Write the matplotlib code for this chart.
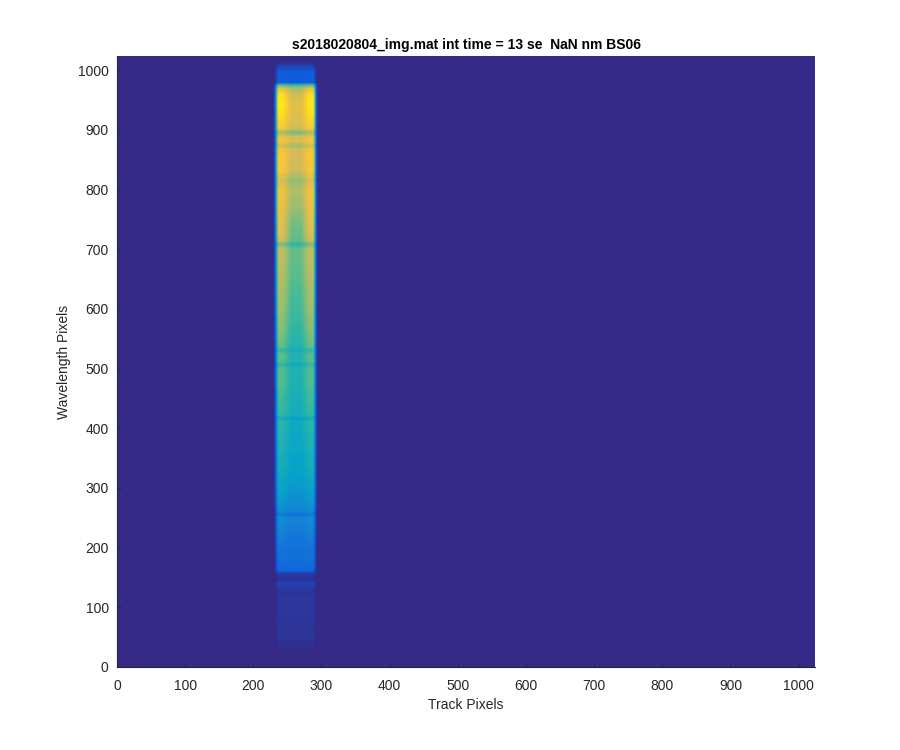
import numpy as np
import matplotlib
matplotlib.use('Agg')
import matplotlib.pyplot as plt
from matplotlib.colors import LinearSegmentedColormap

plt.rcParams['font.family'] = ['Liberation Sans', 'DejaVu Sans']

# colours of the parula map, evenly spaced
parula_colors = ['#352A87', '#0F5CDD', '#1481D6', '#06A4CA', '#2EB7A4',
                 '#87BF77', '#D1BB59', '#FEC832', '#F9FB0E']

# cross track positions and how bright each one is
track_x = [0, 229, 232, 233, 235, 237, 243, 250, 256, 270, 276, 282, 288, 290, 292, 293, 295, 1024]
track_mask = [0, 0, 0.15, 0.3, 0.7, 1, 1, 1, 1, 1, 1, 1, 1, 0.7, 0.3, 0.15, 0, 0]
track_edge = [1, 1, 1, 1, 1, 1, 1, 0.5, 0, 0, 0.5, 1, 1, 1, 1, 1, 1, 1]

# wavelength rows, read from the strip
wave_y = [0, 30, 33, 42, 46, 60, 80, 100, 118, 122, 135, 141, 145, 149, 152, 155, 158,
          161, 165, 180, 200, 220, 240, 252, 256, 260, 270, 285, 300, 320, 340, 350,
          365, 380, 395, 412, 417, 422, 440, 455, 470, 490, 503, 507, 512, 525, 531, 537,
          550, 570, 590, 610, 630, 650, 670, 690, 703, 709, 714, 725, 745, 770, 800,
          816, 830, 850, 868, 874, 880, 890, 896, 902, 920, 940, 960, 972, 977, 980,
          990, 1000, 1010, 1015, 1024]
centre_level = [0, 0, 0.012, 0.012, 0.03, 0.025, 0.03, 0.035, 0.035, 0.02, 0.05, 0.07, 0.035, 0.02,
                0.05, 0.03, 0.07, 0.14, 0.17, 0.185, 0.2, 0.215, 0.25, 0.26, 0.18, 0.25, 0.28,
                0.3, 0.33, 0.36, 0.38, 0.37, 0.4, 0.39, 0.4, 0.41, 0.37, 0.42, 0.43, 0.44, 0.45,
                0.46, 0.46, 0.41, 0.46, 0.47, 0.42, 0.47, 0.48, 0.5, 0.52, 0.53, 0.54, 0.56,
                0.57, 0.58, 0.57, 0.48, 0.57, 0.58, 0.6, 0.66, 0.7, 0.64, 0.74, 0.76, 0.76,
                0.66, 0.77, 0.76, 0.58, 0.75, 0.78, 0.8, 0.76, 0.64, 0.42, 0.12, 0.13, 0.12,
                0.04, 0, 0]
edge_level = [0, 0, 0.012, 0.012, 0.03, 0.025, 0.03, 0.035, 0.035, 0.02, 0.05, 0.07, 0.035, 0.02,
              0.05, 0.03, 0.07, 0.14, 0.17, 0.19, 0.21, 0.24, 0.28, 0.29, 0.2, 0.28, 0.32,
              0.35, 0.38, 0.41, 0.44, 0.43, 0.45, 0.46, 0.48, 0.49, 0.42, 0.5, 0.52, 0.53, 0.55,
              0.56, 0.55, 0.48, 0.56, 0.57, 0.5, 0.58, 0.6, 0.63, 0.65, 0.67, 0.68, 0.7,
              0.71, 0.73, 0.72, 0.58, 0.74, 0.78, 0.8, 0.82, 0.84, 0.76, 0.85, 0.86, 0.85,
              0.74, 0.84, 0.82, 0.66, 0.85, 0.92, 0.96, 0.93, 0.76, 0.46, 0.13, 0.14, 0.12,
              0.04, 0, 0]

x_ticks = [0, 100, 200, 300, 400, 500, 600, 700, 800, 900, 1000]
y_ticks = [0, 100, 200, 300, 400, 500, 600, 700, 800, 900, 1000]

mask = np.array(track_mask)
edge = np.array(track_edge)
centre_row = np.array(centre_level)
edge_row = np.array(edge_level)
image = np.outer(centre_row, mask * (1 - edge)) + np.outer(edge_row, mask * edge)

parula = LinearSegmentedColormap.from_list('parula', parula_colors)

fig = plt.figure(figsize=(9, 7.5), dpi=100)
ax = fig.add_axes([117 / 900, 1 - 667 / 750, 698 / 900, 611 / 750])
ax.pcolormesh(track_x, wave_y, image, cmap=parula, vmin=0, vmax=1, shading='gouraud', rasterized=True)

ax.set_xlim(0, 1024)
ax.set_ylim(0, 1024)
ax.set_xticks(x_ticks)
ax.set_yticks(y_ticks)
ax.tick_params(direction='in', length=3, width=0.6, colors='#262626', labelsize=10)
ax.tick_params(axis='x', pad=9)
ax.tick_params(axis='y', pad=6)
ax.spines['top'].set_visible(False)
ax.spines['right'].set_visible(False)
ax.spines['left'].set_color('#262626')
ax.spines['bottom'].set_color('#262626')
ax.set_xlabel('Track Pixels', fontsize=10, color='#262626', labelpad=3)
ax.set_ylabel('Wavelength Pixels', fontsize=10, color='#262626', labelpad=5)
ax.set_title('s2018020804_img.mat int time = 13 se  NaN nm BS06', fontsize=10, fontweight='bold', pad=5)

fig.savefig('out.png', dpi=100)
